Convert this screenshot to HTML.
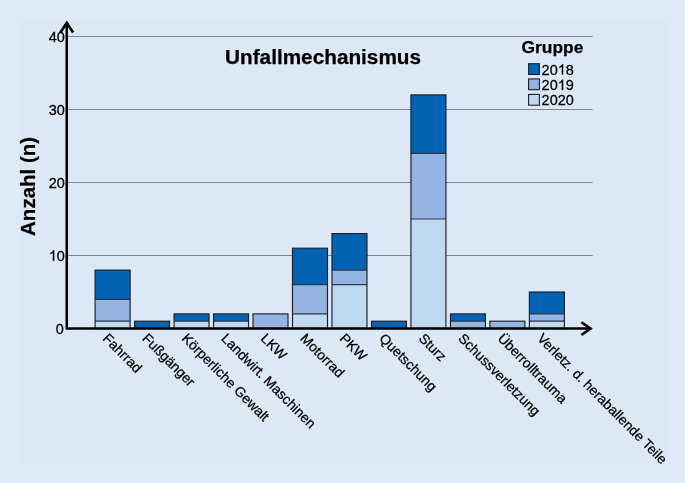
<!DOCTYPE html>
<html><head><meta charset="utf-8"><style>
html,body{margin:0;padding:0;background:#dfeaf8;}
svg{display:block;will-change:transform;filter:blur(0.3px);}
text{font-family:"Liberation Sans",sans-serif;fill:#000;stroke:#000;stroke-width:0.25px;}
</style></head><body>
<svg width="685" height="483" viewBox="0 0 685 483">
<rect width="685" height="483" fill="#dfeaf8"/>
<rect x="20" y="21" width="646" height="443" fill="#dce8f6"/>
<line x1="67.5" y1="255.50" x2="592.6" y2="255.50" stroke="#7d8793" stroke-width="1"/>
<line x1="67.5" y1="182.50" x2="592.6" y2="182.50" stroke="#7d8793" stroke-width="1"/>
<line x1="67.5" y1="109.50" x2="592.6" y2="109.50" stroke="#7d8793" stroke-width="1"/>
<line x1="67.5" y1="36.50" x2="592.6" y2="36.50" stroke="#7d8793" stroke-width="1"/>
<text transform="translate(63.80 334.20) scale(1 1.03)" font-size="14.5" text-anchor="end">0</text>
<text transform="translate(64.90 260.70) scale(1 1.03)" font-size="14.5" text-anchor="end"> 0</text>
<path d="M763 0H583V1147Q518 1085 412.5 1023T223 930V1104Q374 1175 487 1276T647 1472H763V0Z" transform="translate(48.78 260.70) scale(0.007080 -0.007080)" fill="#000" stroke="#000" stroke-width="0.25" vector-effect="non-scaling-stroke"/>
<text transform="translate(64.90 187.70) scale(1 1.03)" font-size="14.5" text-anchor="end">20</text>
<text transform="translate(64.90 114.70) scale(1 1.03)" font-size="14.5" text-anchor="end">30</text>
<text transform="translate(64.90 41.70) scale(1 1.03)" font-size="14.5" text-anchor="end">40</text>
<rect x="95.10" y="321.20" width="35.00" height="7.30" fill="#bfd9f2"/>
<rect x="95.10" y="299.30" width="35.00" height="21.90" fill="#95b4e2"/>
<rect x="95.10" y="270.10" width="35.00" height="29.20" fill="#0263b2"/>
<line x1="95.10" y1="321.20" x2="130.10" y2="321.20" stroke="#2c3648" stroke-width="1.2"/>
<line x1="95.10" y1="299.30" x2="130.10" y2="299.30" stroke="#2c3648" stroke-width="1.2"/>
<rect x="95.10" y="270.10" width="35.00" height="58.40" fill="none" stroke="#1a1f2a" stroke-width="1.15"/>
<rect x="134.58" y="321.20" width="35.00" height="7.30" fill="#0263b2"/>
<rect x="134.58" y="321.20" width="35.00" height="7.30" fill="none" stroke="#1a1f2a" stroke-width="1.15"/>
<rect x="174.06" y="321.20" width="35.00" height="7.30" fill="#bfd9f2"/>
<rect x="174.06" y="313.90" width="35.00" height="7.30" fill="#0263b2"/>
<line x1="174.06" y1="321.20" x2="209.06" y2="321.20" stroke="#2c3648" stroke-width="1.2"/>
<rect x="174.06" y="313.90" width="35.00" height="14.60" fill="none" stroke="#1a1f2a" stroke-width="1.15"/>
<rect x="213.54" y="321.20" width="35.00" height="7.30" fill="#bfd9f2"/>
<rect x="213.54" y="313.90" width="35.00" height="7.30" fill="#0263b2"/>
<line x1="213.54" y1="321.20" x2="248.54" y2="321.20" stroke="#2c3648" stroke-width="1.2"/>
<rect x="213.54" y="313.90" width="35.00" height="14.60" fill="none" stroke="#1a1f2a" stroke-width="1.15"/>
<rect x="253.02" y="313.90" width="35.00" height="14.60" fill="#95b4e2"/>
<rect x="253.02" y="313.90" width="35.00" height="14.60" fill="none" stroke="#1a1f2a" stroke-width="1.15"/>
<rect x="292.50" y="313.90" width="35.00" height="14.60" fill="#bfd9f2"/>
<rect x="292.50" y="284.70" width="35.00" height="29.20" fill="#95b4e2"/>
<rect x="292.50" y="248.20" width="35.00" height="36.50" fill="#0263b2"/>
<line x1="292.50" y1="313.90" x2="327.50" y2="313.90" stroke="#2c3648" stroke-width="1.2"/>
<line x1="292.50" y1="284.70" x2="327.50" y2="284.70" stroke="#2c3648" stroke-width="1.2"/>
<rect x="292.50" y="248.20" width="35.00" height="80.30" fill="none" stroke="#1a1f2a" stroke-width="1.15"/>
<rect x="331.98" y="284.70" width="35.00" height="43.80" fill="#bfd9f2"/>
<rect x="331.98" y="270.10" width="35.00" height="14.60" fill="#95b4e2"/>
<rect x="331.98" y="233.60" width="35.00" height="36.50" fill="#0263b2"/>
<line x1="331.98" y1="284.70" x2="366.98" y2="284.70" stroke="#2c3648" stroke-width="1.2"/>
<line x1="331.98" y1="270.10" x2="366.98" y2="270.10" stroke="#2c3648" stroke-width="1.2"/>
<rect x="331.98" y="233.60" width="35.00" height="94.90" fill="none" stroke="#1a1f2a" stroke-width="1.15"/>
<rect x="371.46" y="321.20" width="35.00" height="7.30" fill="#0263b2"/>
<rect x="371.46" y="321.20" width="35.00" height="7.30" fill="none" stroke="#1a1f2a" stroke-width="1.15"/>
<rect x="410.94" y="219.00" width="35.00" height="109.50" fill="#bfd9f2"/>
<rect x="410.94" y="153.30" width="35.00" height="65.70" fill="#95b4e2"/>
<rect x="410.94" y="94.90" width="35.00" height="58.40" fill="#0263b2"/>
<line x1="410.94" y1="219.00" x2="445.94" y2="219.00" stroke="#2c3648" stroke-width="1.2"/>
<line x1="410.94" y1="153.30" x2="445.94" y2="153.30" stroke="#2c3648" stroke-width="1.2"/>
<rect x="410.94" y="94.90" width="35.00" height="233.60" fill="none" stroke="#1a1f2a" stroke-width="1.15"/>
<rect x="450.42" y="321.20" width="35.00" height="7.30" fill="#95b4e2"/>
<rect x="450.42" y="313.90" width="35.00" height="7.30" fill="#0263b2"/>
<line x1="450.42" y1="321.20" x2="485.42" y2="321.20" stroke="#2c3648" stroke-width="1.2"/>
<rect x="450.42" y="313.90" width="35.00" height="14.60" fill="none" stroke="#1a1f2a" stroke-width="1.15"/>
<rect x="489.90" y="321.20" width="35.00" height="7.30" fill="#95b4e2"/>
<rect x="489.90" y="321.20" width="35.00" height="7.30" fill="none" stroke="#1a1f2a" stroke-width="1.15"/>
<rect x="529.38" y="321.20" width="35.00" height="7.30" fill="#bfd9f2"/>
<rect x="529.38" y="313.90" width="35.00" height="7.30" fill="#95b4e2"/>
<rect x="529.38" y="292.00" width="35.00" height="21.90" fill="#0263b2"/>
<line x1="529.38" y1="321.20" x2="564.38" y2="321.20" stroke="#2c3648" stroke-width="1.2"/>
<line x1="529.38" y1="313.90" x2="564.38" y2="313.90" stroke="#2c3648" stroke-width="1.2"/>
<rect x="529.38" y="292.00" width="35.00" height="36.50" fill="none" stroke="#1a1f2a" stroke-width="1.15"/>
<text transform="translate(102.10 339.30) rotate(45.1)" font-size="13.83">Fahrrad</text>
<text transform="translate(141.58 339.30) rotate(45.1)" font-size="13.83">Fußgänger</text>
<text transform="translate(181.06 339.30) rotate(45.1)" font-size="13.83">Körperliche Gewalt</text>
<text transform="translate(220.54 339.30) rotate(45.1)" font-size="13.83">Landwirt. Maschinen</text>
<text transform="translate(260.02 339.30) rotate(45.1)" font-size="13.83">LKW</text>
<text transform="translate(299.50 339.30) rotate(45.1)" font-size="13.83">Motorrad</text>
<text transform="translate(338.98 339.30) rotate(45.1)" font-size="13.83">PKW</text>
<text transform="translate(378.46 339.30) rotate(45.1)" font-size="13.83">Quetschung</text>
<text transform="translate(417.94 339.30) rotate(45.1)" font-size="13.83">Sturz</text>
<text transform="translate(457.42 339.30) rotate(45.1)" font-size="13.83">Schussverletzung</text>
<text transform="translate(496.90 339.30) rotate(45.1)" font-size="13.83">Überrolltrauma</text>
<text transform="translate(536.38 339.30) rotate(45.1)" font-size="13.83">Verletz. d. heraballende Teile</text>
<path d="M66.75,22.8 V328.6 H591" fill="none" stroke="#000" stroke-width="2.5" stroke-linejoin="round"/>
<polyline points="60.4,32.5 66.75,22.9 73.1,32.5" fill="none" stroke="#000" stroke-width="2.6" stroke-linejoin="miter"/>
<polyline points="581.4,322.2 590.5,328.6 581.4,335.0" fill="none" stroke="#000" stroke-width="2.6" stroke-linejoin="miter"/>
<text transform="translate(323.05 63.60)" font-size="20.75" font-weight="bold" text-anchor="middle">Unfallmechanismus</text>
<text transform="translate(34.90 186.40) rotate(-90)" font-size="20.5" font-weight="bold" text-anchor="middle">Anzahl (n)</text>
<text transform="translate(552.50 52.80)" font-size="17.4" font-weight="bold" text-anchor="middle">Gruppe</text>
<rect x="528.6" y="63.70" width="10.8" height="10.8" fill="#0263b2" stroke="#1a1f2a" stroke-width="1.1"/>
<text transform="translate(541.60 74.60) scale(1 1.03)" font-size="14.5">20 8</text>
<path d="M763 0H583V1147Q518 1085 412.5 1023T223 930V1104Q374 1175 487 1276T647 1472H763V0Z" transform="translate(557.72 74.60) scale(0.007080 -0.007080)" fill="#000" stroke="#000" stroke-width="0.25" vector-effect="non-scaling-stroke"/>
<rect x="528.6" y="78.90" width="10.8" height="10.8" fill="#95b4e2" stroke="#1a1f2a" stroke-width="1.1"/>
<text transform="translate(541.60 90.00) scale(1 1.03)" font-size="14.5">20 9</text>
<path d="M763 0H583V1147Q518 1085 412.5 1023T223 930V1104Q374 1175 487 1276T647 1472H763V0Z" transform="translate(557.72 90.00) scale(0.007080 -0.007080)" fill="#000" stroke="#000" stroke-width="0.25" vector-effect="non-scaling-stroke"/>
<rect x="528.6" y="94.40" width="10.8" height="10.8" fill="#bfd9f2" stroke="#1a1f2a" stroke-width="1.1"/>
<text transform="translate(541.60 105.10) scale(1 1.03)" font-size="14.5">2020</text>
</svg>
</body></html>
